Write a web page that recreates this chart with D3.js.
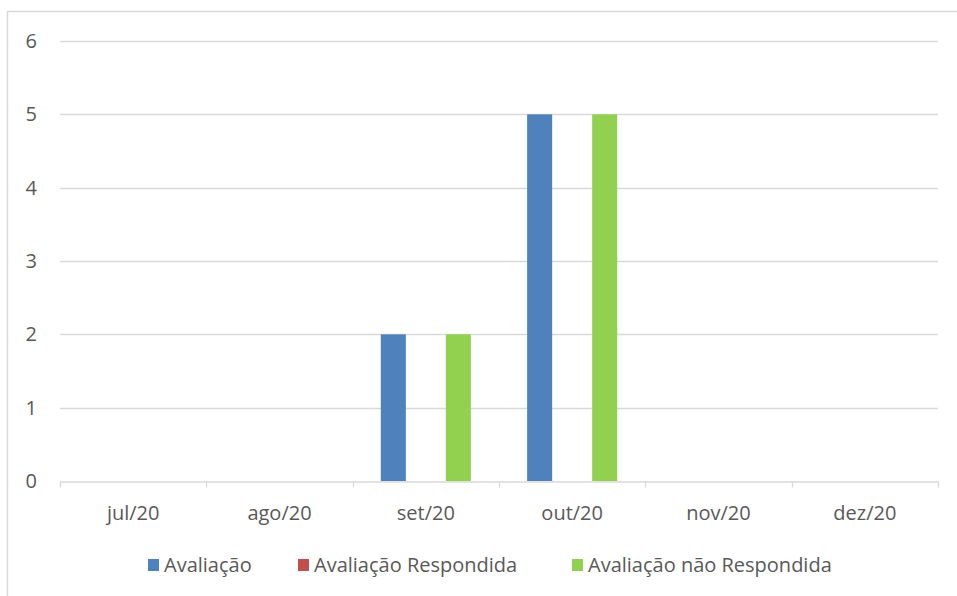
<!DOCTYPE html>
<html>
<head>
<meta charset="utf-8">
<script src="https://cdn.jsdelivr.net/npm/d3@7"></script>
<style>
  body { margin: 0; background: #fff; }
  text { font-family: "Open Sans", "Noto Sans", sans-serif; fill: #595959; }
</style>
</head>
<body>
<div id="chart"></div>
<script>
// data
const months = ["jul/20", "ago/20", "set/20", "out/20", "nov/20", "dez/20"];
const seriesNames = ["Avaliação", "Avaliação Respondida", "Avaliação não Respondida"];
const seriesColors = ["#4f81bd", "#c0504d", "#92d050"];
const avaliacao = [0, 0, 2, 5, 0, 0];
const respondida = [0, 0, 0, 0, 0, 0];
const naoRespondida = [0, 0, 2, 5, 0, 0];
const yTicks = [0, 1, 2, 3, 4, 5, 6];

const width = 957;
const height = 596;
const margin = {t: 41, b: 115, l: 60, r: 19};
const fontSize = "20px";

const svg = d3.select("#chart")
    .append("svg")
    .attr("width", width)
    .attr("height", height);

// chart frame
svg.append("rect")
    .attr("x", 7.5)
    .attr("y", 11.5)
    .attr("width", width + 20)
    .attr("height", height + 20)
    .attr("fill", "white")
    .attr("stroke", "#d9d9d9")
    .attr("stroke-width", 1.5);

const x = d3.scaleBand()
    .domain(months)
    .range([margin.l, width - margin.r]);

const x1 = d3.scaleBand()
    .domain(seriesNames)
    .range([0, x.bandwidth()])
    .paddingInner(0.23)
    .paddingOuter(0.865);

const y = d3.scaleLinear()
    .domain([0, 6])
    .range([height - margin.b, margin.t]);

// gridlines
svg.append("g")
    .selectAll("line")
    .data(yTicks.filter(d => d > 0))
    .enter()
    .append("line")
    .attr("x1", margin.l)
    .attr("x2", width - margin.r)
    .attr("y1", d => Math.round(y(d)) + 0.5)
    .attr("y2", d => Math.round(y(d)) + 0.5)
    .attr("stroke", "#d9d9d9")
    .attr("stroke-width", 1.3);

// y labels
svg.append("g")
    .selectAll("text")
    .data(yTicks)
    .enter()
    .append("text")
    .attr("x", 37)
    .attr("y", d => y(d))
    .attr("dy", "0.35em")
    .attr("text-anchor", "end")
    .attr("font-size", fontSize)
    .text(d => d);

// bars
const table = months.map((m, i) => ({
    month: m,
    values: [avaliacao[i], respondida[i], naoRespondida[i]]
}));

const groups = svg.append("g")
    .selectAll("g")
    .data(table)
    .enter()
    .append("g")
    .attr("transform", d => "translate(" + x(d.month) + ",0)");

groups.selectAll("rect")
    .data(d => d.values.map((v, k) => ({name: seriesNames[k], value: v, color: seriesColors[k]})))
    .enter()
    .append("rect")
    .attr("x", d => x1(d.name))
    .attr("width", x1.bandwidth())
    .attr("y", d => y(d.value))
    .attr("height", d => y(0) - y(d.value))
    .attr("fill", d => d.color);

// x axis
const xAxis = d3.axisBottom(x)
    .tickSize(0)
    .tickPadding(24);

const ax = svg.append("g")
    .attr("transform", "translate(0," + (Math.round(y(0)) + 0.5) + ")")
    .call(xAxis);
ax.select(".domain").attr("stroke", "#d9d9d9").attr("stroke-width", 1.3);
ax.selectAll("text").attr("font-size", fontSize).attr("fill", "#595959")
    .style("font-family", "'Open Sans', sans-serif");

// boundary ticks
ax.selectAll(".bound")
    .data(d3.range(months.length + 1))
    .enter()
    .append("line")
    .attr("class", "bound")
    .attr("x1", i => Math.round(margin.l + i * x.step()) + 0.5)
    .attr("x2", i => Math.round(margin.l + i * x.step()) + 0.5)
    .attr("y1", 0)
    .attr("y2", 6)
    .attr("stroke", "#d9d9d9")
    .attr("stroke-width", 1.3);

// legend
const legendX = [148, 298, 572];
const legend = svg.append("g")
    .selectAll("g")
    .data(seriesNames)
    .enter()
    .append("g")
    .attr("transform", (d, i) => "translate(" + legendX[i] + ",559)");

legend.append("rect")
    .attr("width", 11)
    .attr("height", 12)
    .attr("fill", (d, i) => seriesColors[i]);

legend.append("text")
    .attr("x", 16)
    .attr("y", 6)
    .attr("dy", "0.35em")
    .attr("font-size", fontSize)
    .text(d => d);
</script>
</body>
</html>
